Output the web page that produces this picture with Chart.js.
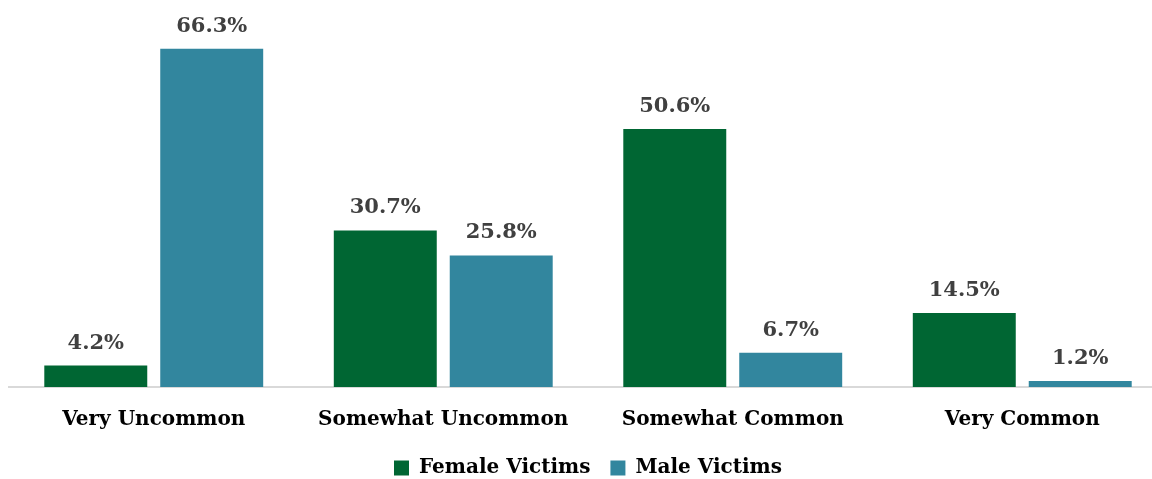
<!DOCTYPE html>
<html lang="en">
<head>
  <meta charset="UTF-8">
  <title>Female vs Male Victims</title>
  <script src="https://cdn.jsdelivr.net/npm/chart.js"></script>
  <style>
    html, body { margin: 0; padding: 0; background: #fff; overflow: hidden; }
    #clip { width: 1152px; height: 479px; overflow: hidden; position: relative; }
    #wrap { width: 1167px; height: 488px; }
  </style>
</head>
<body>
  <div id="clip"><div id="wrap"><canvas id="victimChart"></canvas></div></div>
  <script>
    // chart data
    const categories = ['Very Uncommon', 'Somewhat Uncommon', 'Somewhat Common', 'Very Common'];
    const femaleVictims = [4.2, 30.7, 50.6, 14.5];
    const maleVictims = [66.3, 25.8, 6.7, 1.2];

    const fontFamily = '"DejaVu Serif", serif';

    // value labels above the bars
    const barLabels = {
      id: 'barLabels',
      afterDatasetsDraw(chart) {
        const ctx = chart.ctx;
        ctx.save();
        ctx.font = 'bold 21px ' + fontFamily;
        ctx.fillStyle = '#404040';
        ctx.textAlign = 'center';
        ctx.textBaseline = 'bottom';
        chart.data.datasets.forEach(function(ds, i) {
          chart.getDatasetMeta(i).data.forEach(function(bar, j) {
            ctx.fillText(ds.data[j].toFixed(1) + '%', bar.x, bar.y - 12);
          });
        });
        ctx.restore();
      }
    };

    new Chart(document.getElementById('victimChart'), {
      type: 'bar',
      data: {
        labels: categories,
        datasets: [
          { label: 'Female Victims', data: femaleVictims, backgroundColor: '#006633' },
          { label: 'Male Victims', data: maleVictims, backgroundColor: '#32869E' }
        ]
      },
      options: {
        responsive: true,
        maintainAspectRatio: false,
        animation: false,
        categoryPercentage: 0.801,
        barPercentage: 0.888,
        layout: { padding: { left: 9, right: 0, top: 30, bottom: 0 } },
        scales: {
          x: {
            grid: { display: false, drawTicks: false },
            border: { color: '#d9d9d9', width: 2 },
            ticks: { color: '#000', padding: 21, font: { family: fontFamily, size: 20, weight: 'bold' } },
            afterFit: function(axis) { axis.height = 51; }
          },
          y: {
            display: false,
            min: 0,
            max: 70
          }
        },
        plugins: {
          legend: {
            position: 'bottom',
            labels: {
              color: '#000',
              boxWidth: 15,
              boxHeight: 15,
              padding: 20,
              font: { family: fontFamily, size: 20, weight: 'bold' }
            }
          },
          tooltip: { enabled: false }
        }
      },
      plugins: [barLabels]
    });
  </script>
</body>
</html>
